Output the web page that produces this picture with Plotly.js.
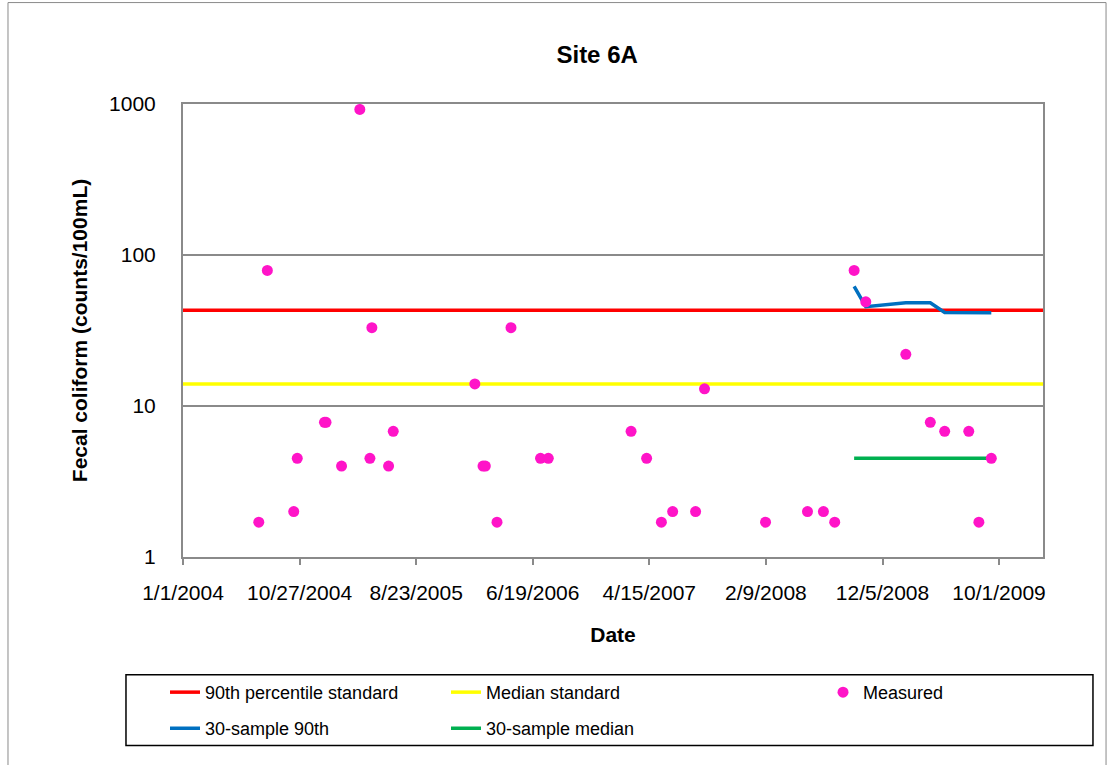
<!DOCTYPE html>
<html>
<head>
<meta charset="utf-8">
<script src="https://cdn.plot.ly/plotly-3.0.1.min.js"></script>
<style>
html, body { margin: 0; padding: 0; background: #fff; }
#chart { width: 1112px; height: 765px; }
</style>
</head>
<body>
<div id="chart"></div>
<script>
// ---- data ----
const measuredDates = ['2004-07-14','2004-08-05','2004-10-12','2004-10-21','2004-12-30','2005-01-03','2005-02-12','2005-03-31','2005-04-26','2005-05-01','2005-06-13','2005-06-25','2006-01-21','2006-02-11','2006-02-17','2006-03-19','2006-04-24','2006-07-09','2006-07-29','2007-02-27','2007-04-08','2007-05-16','2007-06-14','2007-08-12','2007-09-04','2008-02-08','2008-05-26','2008-07-06','2008-08-04','2008-09-23','2008-10-23','2009-02-03','2009-04-07','2009-05-14','2009-07-15','2009-08-10','2009-09-11'];
const measuredValues = [1.7,79,2,4.5,7.8,7.8,4,920,4.5,33,4,6.8,14,4,4,1.7,33,4.5,4.5,6.8,4.5,1.7,2,2,13,1.7,2,2,1.7,79,49,22,7.8,6.8,6.8,1.7,4.5];

const rollingDates = ['2008-09-23','2008-10-23','2009-02-03','2009-04-07','2009-05-14','2009-07-15','2009-08-10','2009-09-11'];
const rolling90th = [62,45.5,48.3,48.3,41.6,41.6,41.5,41.4];
const rollingMedian = [4.5,4.5,4.5,4.5,4.5,4.5,4.5,4.5];

const standardDates = ['2004-01-01','2010-01-22'];
const standard90th = [43,43];
const standardMedian = [14,14];

const xTickVals = ['2004-01-01','2004-10-27','2005-08-23','2006-06-19','2007-04-15','2008-02-09','2008-12-05','2009-10-01'];
const xTickText = ['1/1/2004','10/27/2004','8/23/2005','6/19/2006','4/15/2007','2/9/2008','12/5/2008','10/1/2009'];
const yTickVals = [1,10,100,1000];
const yTickText = ['1','10','100','1000'];

const FONT = 'Liberation Sans, Arial, sans-serif';
const legendFont = {family: FONT, size: 18, color: '#000'};

function leg(x, y) {
  return {x: x, y: y, xanchor: 'left', yanchor: 'middle', orientation: 'v',
          bgcolor: 'rgba(0,0,0,0)', borderwidth: 0, font: legendFont};
}

const traces = [
  {x: standardDates, y: standard90th, type: 'scatter', mode: 'lines', name: '90th percentile standard',
   line: {color: '#FF0000', width: 3.5}, legend: 'legend'},
  {x: standardDates, y: standardMedian, type: 'scatter', mode: 'lines', name: 'Median standard',
   line: {color: '#FFFF00', width: 3.5}, legend: 'legend2'},
  {x: rollingDates, y: rolling90th, type: 'scatter', mode: 'lines', name: '30-sample 90th',
   line: {color: '#0070C0', width: 3.5}, legend: 'legend4'},
  {x: rollingDates, y: rollingMedian, type: 'scatter', mode: 'lines', name: '30-sample median',
   line: {color: '#00B050', width: 3.5}, legend: 'legend5'},
  {x: measuredDates, y: measuredValues, type: 'scatter', mode: 'markers', name: 'Measured',
   marker: {color: '#FF14C8', size: 11, line: {width: 0}}, legend: 'legend3'}
];

const layout = {
  width: 1112, height: 765,
  margin: {l: 183, r: 69, t: 104, b: 208, autoexpand: false},
  paper_bgcolor: '#ffffff', plot_bgcolor: '#ffffff',
  font: {family: FONT, color: '#000'},
  showlegend: true,
  title: {text: '<b>Site 6A</b>', font: {family: FONT, size: 24, color: '#000'},
          xref: 'container', yref: 'container', x: 0.537, y: 0.928, xanchor: 'center', yanchor: 'middle'},
  xaxis: {
    type: 'date', range: ['2004-01-01','2010-01-22'],
    tickmode: 'array', tickvals: xTickVals, ticktext: xTickText,
    ticks: 'outside', ticklen: 6, tickwidth: 2, tickcolor: '#8a8a8a',
    ticklabelstandoff: 10,
    tickfont: {family: FONT, size: 21, color: '#000'},
    showgrid: false, zeroline: false,
    showline: true, linecolor: '#8a8a8a', linewidth: 2, mirror: true,
    title: {text: '<b>Date</b>', font: {family: FONT, size: 21, color: '#000'}, standoff: 24}
  },
  yaxis: {
    type: 'log', range: [0, 3],
    tickmode: 'array', tickvals: yTickVals, ticktext: yTickText,
    ticks: '', ticklabelstandoff: 21,
    tickfont: {family: FONT, size: 21, color: '#000'},
    showgrid: true, gridcolor: '#8a8a8a', gridwidth: 2, zeroline: false,
    showline: true, linecolor: '#8a8a8a', linewidth: 2, mirror: true,
    title: {text: '<b>Fecal coliform (counts/100mL)</b>', font: {family: FONT, size: 21, color: '#000'}, standoff: 16}
  },
  legend: leg(-0.0209, -0.299),
  legend2: leg(0.3058, -0.299),
  legend3: leg(0.7442, -0.299),
  legend4: leg(-0.0209, -0.3787),
  legend5: leg(0.3058, -0.3787),
  shapes: [
    {type: 'rect', xref: 'paper', yref: 'paper', x0: -0.0663, x1: 1.0581, y0: -0.4162, y1: -0.26,
     line: {color: '#000', width: 1.5}, fillcolor: 'rgba(0,0,0,0)'},
    {type: 'rect', xref: 'paper', yref: 'paper', x0: -0.2035, x1: 1.0733, y0: -0.48, y1: 1.2239,
     line: {color: '#8a8a8a', width: 1}, fillcolor: 'rgba(0,0,0,0)'}
  ]
};

Plotly.newPlot('chart', traces, layout, {displayModeBar: false, staticPlot: true});
</script>
</body>
</html>
